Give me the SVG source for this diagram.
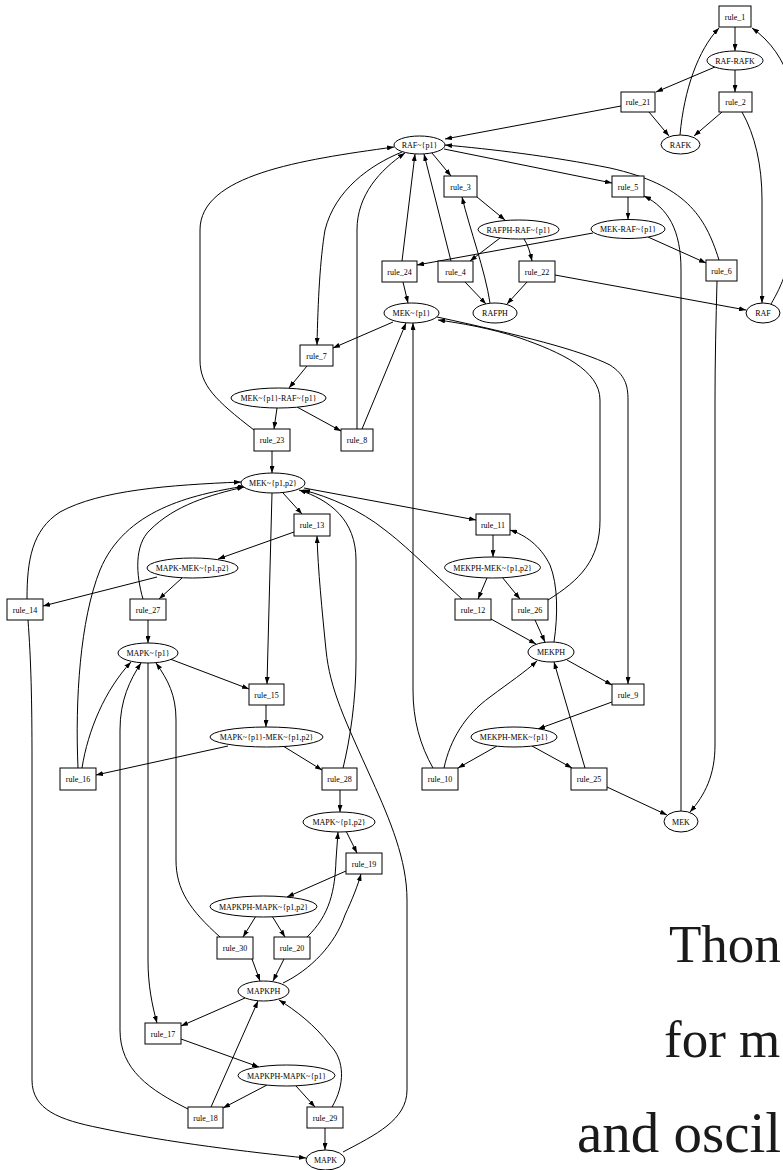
<svg xmlns="http://www.w3.org/2000/svg" width="783" height="1170" viewBox="0 0 783 1170">
<style>
.n rect,.n ellipse{fill:#fff;stroke:#000;stroke-width:1}
.n text{font-family:"Liberation Serif","Times New Roman",serif;font-size:8px;text-anchor:middle;fill:#000}
#edges path{fill:none;stroke:#000;stroke-width:1;marker-end:url(#ah)}
.big{font-family:"Liberation Serif","Times New Roman",serif;font-size:57px;fill:#1a1a1a}
.sm{font-size:53px}
</style>
<defs>
<marker id="ah" viewBox="0 0 7 5" refX="7" refY="2.5" markerWidth="7" markerHeight="5" markerUnits="userSpaceOnUse" orient="auto">
<path d="M0,0 L7,2.5 L0,5 z" fill="#000"/>
</marker>
</defs>
<rect width="783" height="1170" fill="#fff"/>
<g id="edges">
<path d="M735,27 L735,51"/>
<path d="M735,70 L735,92"/>
<path d="M715,67 L656,92"/>
<path d="M649,112 L669,136"/>
<path d="M722,112 L694,136"/>
<path d="M680,135 C684,90 698,50 719,28"/>
<path d="M771,304 C782,285 798,255 800,170 C801,100 790,55 752,28"/>
<path d="M742,112 C755,135 762,165 762,200 L762,303"/>
<path d="M621,106 L445,139"/>
<path d="M432,153 L451,176"/>
<path d="M444,149 L612,183"/>
<path d="M719,260 C705,215 685,185 610,168 C550,156 490,149 445,145"/>
<path d="M477,197 L505,220"/>
<path d="M500,238 L470,261"/>
<path d="M524,239 C528,245 530,252 532,261"/>
<path d="M451,261 L424,154"/>
<path d="M465,282 L486,304"/>
<path d="M527,282 L507,304"/>
<path d="M490,303 C485,270 470,230 462,197"/>
<path d="M555,275 L746,310"/>
<path d="M628,197 L628,219.5"/>
<path d="M593,233 L417,265"/>
<path d="M648,237 L706,263"/>
<path d="M402,261 L415,154"/>
<path d="M403,282 L408,303"/>
<path d="M681,811 L681,270 C681,230 668,208 644,196"/>
<path d="M717,281 C716,320 715,360 715,400 L715,745 C715,775 705,795 690,812"/>
<path d="M402,152 C370,165 335,190 325,230 C320,260 318,300 317,345"/>
<path d="M357,429 L357,230 C357,195 380,170 405,153"/>
<path d="M254,430 C215,400 200,385 200,360 L200,230 C200,175 300,160 394,147"/>
<path d="M393,322 L333,348"/>
<path d="M307,366 L289,388"/>
<path d="M277,408 L274,429"/>
<path d="M297,407 L341,431"/>
<path d="M362,429 L406,323"/>
<path d="M272,451 L272,473"/>
<path d="M433,768 C420,745 413,720 413,690 L413,323"/>
<path d="M437,317 C520,335 580,350 610,365 C625,375 628,385 628,400 L628,684"/>
<path d="M548,600 C580,580 600,560 600,520 L600,400 C600,370 560,352 520,338 C490,328 460,323 438,320"/>
<path d="M283,493 L302,514"/>
<path d="M304,488 L476,520"/>
<path d="M272,493 L267,684"/>
<path d="M294,532 L218,559"/>
<path d="M157,577 L43,606"/>
<path d="M182,578 L159,599"/>
<path d="M27,599 C27,560 32,530 60,512 C100,490 170,485 241,482"/>
<path d="M143,599 C136,575 134,545 150,530 C175,505 210,495 244,487"/>
<path d="M78,768 C75,700 80,620 100,570 C125,510 190,495 245,486"/>
<path d="M462,599 C430,570 405,545 385,530 C360,510 330,497 303,490"/>
<path d="M343,768 C350,740 356,700 356,660 L356,560 C356,520 330,500 299,490"/>
<path d="M148,620 L148,643"/>
<path d="M170,659 L249,689"/>
<path d="M266,705 L266,727"/>
<path d="M228,746 L96,775"/>
<path d="M283,746 L322,770"/>
<path d="M82,768 C88,730 105,690 131,662"/>
<path d="M188,1109 C150,1090 120,1070 120,1030 L120,730 C120,700 130,680 141,663"/>
<path d="M148,663 L148,960 C148,985 152,1005 157,1023"/>
<path d="M220,937 C190,910 176,890 176,860 L176,720 C176,695 168,680 156,663"/>
<path d="M28,620 C31,660 32,700 32,760 L32,1080 C32,1110 60,1120 100,1128 C170,1143 250,1152 306,1158"/>
<path d="M343,1152 C375,1135 407,1120 407,1090 L407,900 C407,860 390,820 372,780 C345,720 330,690 326,650 C322,610 318,570 317,536"/>
<path d="M493,535 L493,557"/>
<path d="M487,578 L478,599"/>
<path d="M502,577 L520,599"/>
<path d="M491,619 L536,644"/>
<path d="M535,620 L545,642"/>
<path d="M554,642 C558,615 558,585 550,565 C540,545 525,535 510,530"/>
<path d="M567,660 L612,685"/>
<path d="M612,702 L538,729"/>
<path d="M497,746 L458,768"/>
<path d="M532,746 L572,768"/>
<path d="M444,768 C450,740 465,715 490,697 C510,682 525,672 537,661"/>
<path d="M585,768 L554,662"/>
<path d="M607,787 L667,815"/>
<path d="M340,790 L340,812"/>
<path d="M346,831 L357,853"/>
<path d="M346,871 L287,897"/>
<path d="M256,916 L243,937"/>
<path d="M272,916 L285,937"/>
<path d="M307,937 C330,915 335,890 336,860 L338,832"/>
<path d="M252,959 L260,981"/>
<path d="M284,959 L273,981"/>
<path d="M283,983 C310,970 335,945 345,915 C352,900 358,885 361,874"/>
<path d="M245,998 L181,1026"/>
<path d="M181,1039 L259,1067"/>
<path d="M267,1085 L223,1108"/>
<path d="M296,1086 L315,1107"/>
<path d="M211,1107 L258,1001"/>
<path d="M332,1107 C345,1085 345,1060 330,1045 C315,1025 295,1010 279,1000"/>
<path d="M325,1128 L325,1150"/>
</g>
<g id="rule_1" class="n"><rect x="719" y="6" width="32" height="21"/><text x="735" y="19.5">rule_1</text></g>
<g id="rule_2" class="n"><rect x="719" y="92" width="33" height="20"/><text x="735.5" y="105">rule_2</text></g>
<g id="rule_21" class="n"><rect x="621" y="92" width="34" height="20"/><text x="638" y="105">rule_21</text></g>
<g id="rule_3" class="n"><rect x="444" y="176" width="33" height="21"/><text x="460.5" y="189.5">rule_3</text></g>
<g id="rule_5" class="n"><rect x="612" y="176" width="32" height="21"/><text x="628" y="189.5">rule_5</text></g>
<g id="rule_24" class="n"><rect x="382" y="261" width="35" height="21"/><text x="399.5" y="274.5">rule_24</text></g>
<g id="rule_4" class="n"><rect x="438" y="261" width="35" height="21"/><text x="455.5" y="274.5">rule_4</text></g>
<g id="rule_22" class="n"><rect x="519" y="261" width="36" height="21"/><text x="537" y="274.5">rule_22</text></g>
<g id="rule_6" class="n"><rect x="706" y="260" width="31" height="21"/><text x="721.5" y="273.5">rule_6</text></g>
<g id="rule_7" class="n"><rect x="300" y="345" width="33" height="21"/><text x="316.5" y="358.5">rule_7</text></g>
<g id="rule_23" class="n"><rect x="254" y="429" width="36" height="22"/><text x="272" y="443">rule_23</text></g>
<g id="rule_8" class="n"><rect x="341" y="429" width="32" height="22"/><text x="357" y="443">rule_8</text></g>
<g id="rule_13" class="n"><rect x="294" y="514" width="36" height="22"/><text x="312" y="528">rule_13</text></g>
<g id="rule_11" class="n"><rect x="476" y="514" width="34" height="21"/><text x="493" y="527.5">rule_11</text></g>
<g id="rule_14" class="n"><rect x="7" y="599" width="36" height="21"/><text x="25" y="612.5">rule_14</text></g>
<g id="rule_27" class="n"><rect x="130" y="599" width="36" height="21"/><text x="148" y="612.5">rule_27</text></g>
<g id="rule_12" class="n"><rect x="455" y="599" width="36" height="21"/><text x="473" y="612.5">rule_12</text></g>
<g id="rule_26" class="n"><rect x="512" y="599" width="36" height="21"/><text x="530" y="612.5">rule_26</text></g>
<g id="rule_15" class="n"><rect x="249" y="684" width="35" height="21"/><text x="266.5" y="697.5">rule_15</text></g>
<g id="rule_9" class="n"><rect x="612" y="684" width="32" height="21"/><text x="628" y="697.5">rule_9</text></g>
<g id="rule_16" class="n"><rect x="60" y="768" width="36" height="22"/><text x="78" y="782">rule_16</text></g>
<g id="rule_28" class="n"><rect x="322" y="768" width="35" height="22"/><text x="339.5" y="782">rule_28</text></g>
<g id="rule_10" class="n"><rect x="422" y="768" width="36" height="22"/><text x="440" y="782">rule_10</text></g>
<g id="rule_25" class="n"><rect x="571" y="768" width="36" height="22"/><text x="589" y="782">rule_25</text></g>
<g id="rule_19" class="n"><rect x="346" y="853" width="36" height="21"/><text x="364" y="866.5">rule_19</text></g>
<g id="rule_30" class="n"><rect x="217" y="937" width="36" height="22"/><text x="235" y="951">rule_30</text></g>
<g id="rule_20" class="n"><rect x="274" y="937" width="36" height="22"/><text x="292" y="951">rule_20</text></g>
<g id="rule_17" class="n"><rect x="145" y="1023" width="36" height="21"/><text x="163" y="1036.5">rule_17</text></g>
<g id="rule_18" class="n"><rect x="188" y="1107" width="35" height="21"/><text x="205.5" y="1120.5">rule_18</text></g>
<g id="rule_29" class="n"><rect x="307" y="1107" width="36" height="21"/><text x="325" y="1120.5">rule_29</text></g>
<g id="RAF-RAFK" class="n"><ellipse cx="735" cy="60.5" rx="28" ry="9.5"/><text x="735" y="63.5">RAF-RAFK</text></g>
<g id="RAFK" class="n"><ellipse cx="680.5" cy="144.5" rx="19.5" ry="9.5"/><text x="680.5" y="147.5">RAFK</text></g>
<g id="RAF" class="n"><ellipse cx="763" cy="313" rx="17" ry="10"/><text x="763" y="316">RAF</text></g>
<g id="RAF_p1" class="n"><ellipse cx="419.5" cy="145" rx="25.5" ry="9"/><text x="419.5" y="148">RAF~{p1}</text></g>
<g id="RAFPH-RAF_p1" class="n"><ellipse cx="518.5" cy="229.5" rx="40.5" ry="9.5"/><text x="518.5" y="232.5">RAFPH-RAF~{p1}</text></g>
<g id="MEK-RAF_p1" class="n"><ellipse cx="628" cy="229" rx="37" ry="9.5"/><text x="628" y="232">MEK-RAF~{p1}</text></g>
<g id="MEK_p1" class="n"><ellipse cx="411.5" cy="313" rx="27.5" ry="10"/><text x="411.5" y="316">MEK~{p1}</text></g>
<g id="RAFPH" class="n"><ellipse cx="495" cy="313" rx="22" ry="10"/><text x="495" y="316">RAFPH</text></g>
<g id="MEK_p1-RAF_p1" class="n"><ellipse cx="278.5" cy="398" rx="47.5" ry="10"/><text x="278.5" y="401">MEK~{p1}-RAF~{p1}</text></g>
<g id="MEK_p1p2" class="n"><ellipse cx="273" cy="483" rx="32" ry="10"/><text x="273" y="486">MEK~{p1,p2}</text></g>
<g id="MAPK-MEK_p1p2" class="n"><ellipse cx="192.5" cy="568" rx="45.5" ry="10"/><text x="192.5" y="571">MAPK-MEK~{p1,p2}</text></g>
<g id="MEKPH-MEK_p1p2" class="n"><ellipse cx="492.5" cy="567.5" rx="48" ry="10.5"/><text x="492.5" y="570.5">MEKPH-MEK~{p1,p2}</text></g>
<g id="MAPK_p1" class="n"><ellipse cx="148" cy="653" rx="30" ry="10"/><text x="148" y="656">MAPK~{p1}</text></g>
<g id="MEKPH" class="n"><ellipse cx="551" cy="652" rx="23" ry="10"/><text x="551" y="655">MEKPH</text></g>
<g id="MAPK_p1-MEK_p1p2" class="n"><ellipse cx="266.5" cy="737" rx="56.5" ry="10"/><text x="266.5" y="740">MAPK~{p1}-MEK~{p1,p2}</text></g>
<g id="MEKPH-MEK_p1" class="n"><ellipse cx="514" cy="737" rx="43" ry="10"/><text x="514" y="740">MEKPH-MEK~{p1}</text></g>
<g id="MEK" class="n"><ellipse cx="681" cy="821.5" rx="17" ry="10.5"/><text x="681" y="824.5">MEK</text></g>
<g id="MAPK_p1p2" class="n"><ellipse cx="339" cy="822" rx="36" ry="10"/><text x="339" y="825">MAPK~{p1,p2}</text></g>
<g id="MAPKPH-MAPK_p1p2" class="n"><ellipse cx="263.5" cy="906.5" rx="53.5" ry="10.5"/><text x="263.5" y="909.5">MAPKPH-MAPK~{p1,p2}</text></g>
<g id="MAPKPH" class="n"><ellipse cx="263.5" cy="991" rx="25.5" ry="10"/><text x="263.5" y="994">MAPKPH</text></g>
<g id="MAPKPH-MAPK_p1" class="n"><ellipse cx="286.5" cy="1075.5" rx="48.5" ry="10.5"/><text x="286.5" y="1078.5">MAPKPH-MAPK~{p1}</text></g>
<g id="MAPK" class="n"><ellipse cx="325.5" cy="1160" rx="19.5" ry="10"/><text x="325.5" y="1163">MAPK</text></g>
<g id="caption">
<text class="big sm" x="669" y="962">Thon</text>
<text class="big sm" x="664" y="1057">for m</text>
<text class="big" x="577" y="1152">and oscil</text>
</g>
</svg>
